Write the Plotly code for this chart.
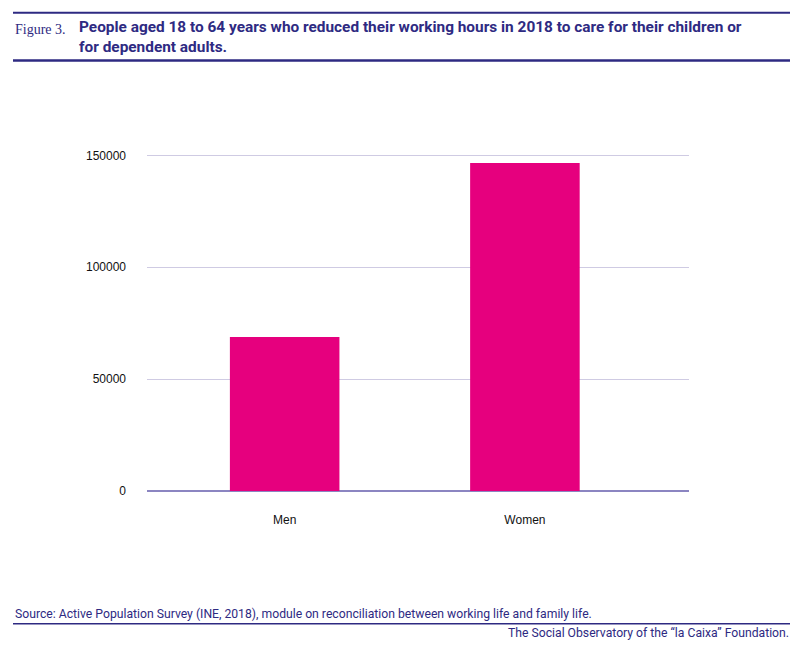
import plotly.graph_objects as go

categories = ["Men", "Women"]
values = [68800, 146600]
y_ticks = [0, 50000, 100000, 150000]
y_tick_labels = ["0", "50000", "100000", "150000"]

NAVY = "#2e2a82"
PINK = "#e6007e"

OFF = 8  # page body margin
W, H = 800, 650
L, R = 147 - OFF, 689 - OFF
T, B = 100 - OFF, 491.5 - OFF
ymax = (B - T) / 112.0 * 50000

def px(x):
    return (x - OFF - L) / (R - L)

def py(y):
    return (B - (y - OFF)) / (B - T)

fig = go.Figure()
fig.add_trace(go.Bar(
    x=categories, y=values, marker=dict(color=PINK, line=dict(width=0)),
    width=0.456, hoverinfo="skip"))

fig.update_layout(
    width=W, height=H,
    margin=dict(l=L, r=W - R, t=T, b=H - B, pad=0),
    paper_bgcolor="white", plot_bgcolor="white",
    showlegend=False,
    font=dict(family="Liberation Sans, Arial, sans-serif", size=12, color="#111111"),
    xaxis=dict(range=[-0.573, 1.683], showgrid=False, showline=False, zeroline=False,
               ticks="", ticklabelstandoff=20, tickfont=dict(size=12, color="#111111")),
    yaxis=dict(range=[0, ymax], tickvals=y_ticks, ticktext=y_tick_labels,
               showgrid=True, gridcolor="#cfcbe3", gridwidth=1,
               zeroline=True, zerolinecolor="#8b85c1", zerolinewidth=1.5,
               showline=False, ticks="", ticklabelstandoff=20,
               tickfont=dict(size=12, color="#111111")),
)

shapes = [
    dict(type="line", xref="paper", yref="paper", x0=px(13), x1=px(790), y0=py(12.7), y1=py(12.7),
         line=dict(color=NAVY, width=2)),
    dict(type="line", xref="paper", yref="paper", x0=px(13), x1=px(790), y0=py(60.5), y1=py(60.5),
         line=dict(color=NAVY, width=2.5)),
    dict(type="line", xref="paper", yref="paper", x0=px(13), x1=px(790), y0=py(624.3), y1=py(624.3),
         line=dict(color=NAVY, width=1.5)),
]
fig.update_layout(shapes=shapes)

ann = [
    dict(text="Figure 3.", x=px(13), y=py(29), xanchor="left", yanchor="middle",
         font=dict(family="Liberation Serif, serif", size=14, color=NAVY)),
    dict(text="<b>People aged 18 to 64 years who reduced their working hours in 2018 to care for their children or</b>"
              "<br><b>for dependent adults.</b>",
         x=px(77), y=py(36.5), xanchor="left", yanchor="middle", align="left",
         font=dict(family="Roboto, sans-serif", size=15.4, color=NAVY)),
    dict(text="Source: Active Population Survey (INE, 2018), module on reconciliation between working life and family life.",
         x=px(13), y=py(615), xanchor="left", yanchor="middle",
         font=dict(family="Roboto, sans-serif", size=12.2, color=NAVY)),
    dict(text="The Social Observatory of the “la Caixa” Foundation.",
         x=px(791), y=py(634), xanchor="right", yanchor="middle",
         font=dict(family="Roboto, sans-serif", size=12.2, color=NAVY)),
]
for a in ann:
    a.update(xref="paper", yref="paper", showarrow=False)
fig.update_layout(annotations=ann)

fig.write_html("out.html")
